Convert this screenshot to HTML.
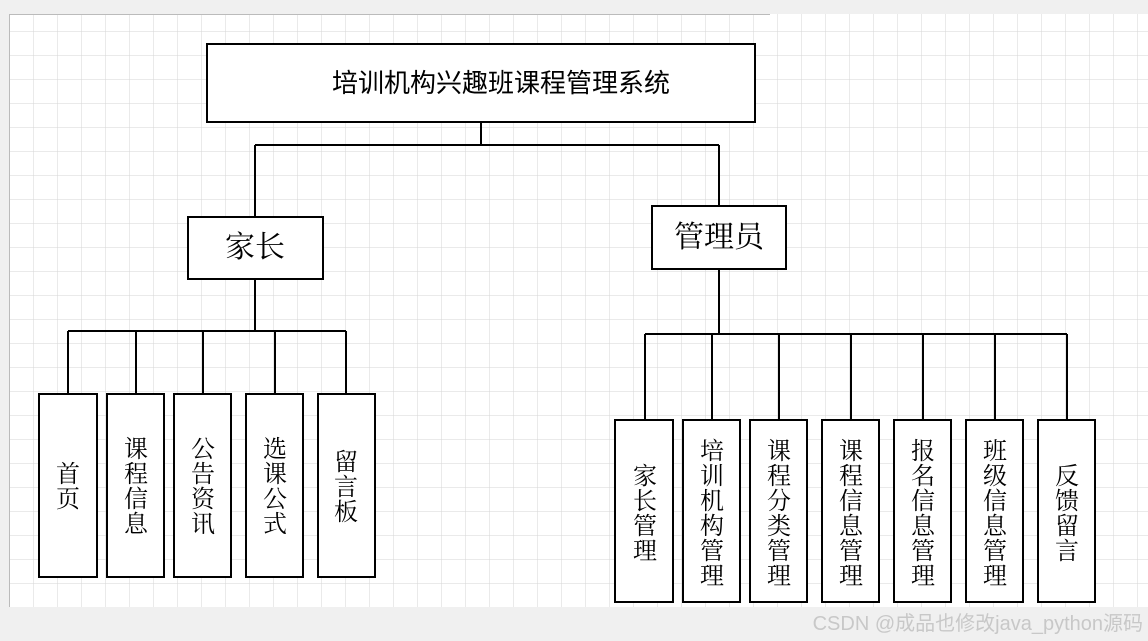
<!DOCTYPE html>
<html><head><meta charset="utf-8"><style>
html,body{margin:0;padding:0;background:#f0f0f0;width:1148px;height:641px;overflow:hidden}
svg{display:block}
text{font-family:"Liberation Serif","Noto Serif CJK SC",serif;fill:#000}
</style></head><body>
<svg width="1148" height="641" viewBox="0 0 1148 641" xmlns="http://www.w3.org/2000/svg">
<defs>
<pattern id="g" x="9" y="7" width="24" height="24" patternUnits="userSpaceOnUse">
<path d="M0 0H24M0 0V24" stroke="#d6d6d6" stroke-width="1" fill="none"/>
</pattern>
</defs>
<rect x="9" y="14" width="1139" height="593" fill="#fff"/>
<rect x="9" y="14" width="1139" height="593" fill="url(#g)"/>
<line x1="9.5" y1="14" x2="9.5" y2="607" stroke="#bbb"/>
<line x1="9" y1="14.5" x2="770" y2="14.5" stroke="#bbb"/>
<g stroke="#000" stroke-width="2" fill="none">
<path d="M481 122V145M255 145H719M255 145V217M719 145V206"/>
<path d="M255 279V331M68 331H346M68 331V394M136 331V394M203 331V394M275 331V394M346 331V394" />
<path d="M719 269V334M645 334H1067M645 334V420M712 334V420M779 334V420M851 334V420M923 334V420M995 334V420M1067 334V420"/>
</g>
<g stroke="#000" stroke-width="2" fill="#fff">
<rect x="207" y="44" width="548" height="78"/>
<rect x="188" y="217" width="135" height="62"/>
<rect x="652" y="206" width="134" height="63"/>
<rect x="39" y="394" width="58" height="183"/>
<rect x="107" y="394" width="57" height="183"/>
<rect x="174" y="394" width="57" height="183"/>
<rect x="246" y="394" width="57" height="183"/>
<rect x="318" y="394" width="57" height="183"/>
<rect x="615" y="420" width="58" height="182"/>
<rect x="683" y="420" width="57" height="182"/>
<rect x="750" y="420" width="57" height="182"/>
<rect x="822" y="420" width="57" height="182"/>
<rect x="894" y="420" width="57" height="182"/>
<rect x="966" y="420" width="57" height="182"/>
<rect x="1038" y="420" width="57" height="182"/>
</g>
<text x="501" y="92" font-size="26" text-anchor="middle" font-family="Noto Sans CJK SC, sans-serif" style="font-family:'Noto Sans CJK SC',sans-serif">培训机构兴趣班课程管理系统</text>
<text x="255" y="257" font-size="30" text-anchor="middle">家长</text>
<text x="719" y="247" font-size="30" text-anchor="middle">管理员</text>
<g font-size="24" text-anchor="middle">
<text x="68"><tspan x="68" y="482">首</tspan><tspan x="68" y="507">页</tspan></text>
<text><tspan x="136" y="457">课</tspan><tspan x="136" y="482">程</tspan><tspan x="136" y="507">信</tspan><tspan x="136" y="532">息</tspan></text>
<text><tspan x="203" y="457">公</tspan><tspan x="203" y="482">告</tspan><tspan x="203" y="507">资</tspan><tspan x="203" y="532">讯</tspan></text>
<text><tspan x="275" y="457">选</tspan><tspan x="275" y="482">课</tspan><tspan x="275" y="507">公</tspan><tspan x="275" y="532">式</tspan></text>
<text><tspan x="346" y="470">留</tspan><tspan x="346" y="495">言</tspan><tspan x="346" y="520">板</tspan></text>
<text><tspan x="645" y="484">家</tspan><tspan x="645" y="509">长</tspan><tspan x="645" y="534">管</tspan><tspan x="645" y="559">理</tspan></text>
<text><tspan x="712" y="459">培</tspan><tspan x="712" y="484">训</tspan><tspan x="712" y="509">机</tspan><tspan x="712" y="534">构</tspan><tspan x="712" y="559">管</tspan><tspan x="712" y="584">理</tspan></text>
<text><tspan x="779" y="459">课</tspan><tspan x="779" y="484">程</tspan><tspan x="779" y="509">分</tspan><tspan x="779" y="534">类</tspan><tspan x="779" y="559">管</tspan><tspan x="779" y="584">理</tspan></text>
<text><tspan x="851" y="459">课</tspan><tspan x="851" y="484">程</tspan><tspan x="851" y="509">信</tspan><tspan x="851" y="534">息</tspan><tspan x="851" y="559">管</tspan><tspan x="851" y="584">理</tspan></text>
<text><tspan x="923" y="459">报</tspan><tspan x="923" y="484">名</tspan><tspan x="923" y="509">信</tspan><tspan x="923" y="534">息</tspan><tspan x="923" y="559">管</tspan><tspan x="923" y="584">理</tspan></text>
<text><tspan x="995" y="459">班</tspan><tspan x="995" y="484">级</tspan><tspan x="995" y="509">信</tspan><tspan x="995" y="534">息</tspan><tspan x="995" y="559">管</tspan><tspan x="995" y="584">理</tspan></text>
<text><tspan x="1067" y="484">反</tspan><tspan x="1067" y="509">馈</tspan><tspan x="1067" y="534">留</tspan><tspan x="1067" y="559">言</tspan></text>
</g>
<text x="1143" y="630" font-size="20" text-anchor="end" style="font-family:'Liberation Sans','Noto Sans CJK SC',sans-serif;fill:#c8c8c8">CSDN @成品也修改java_python源码</text>
</svg>
</body></html>
